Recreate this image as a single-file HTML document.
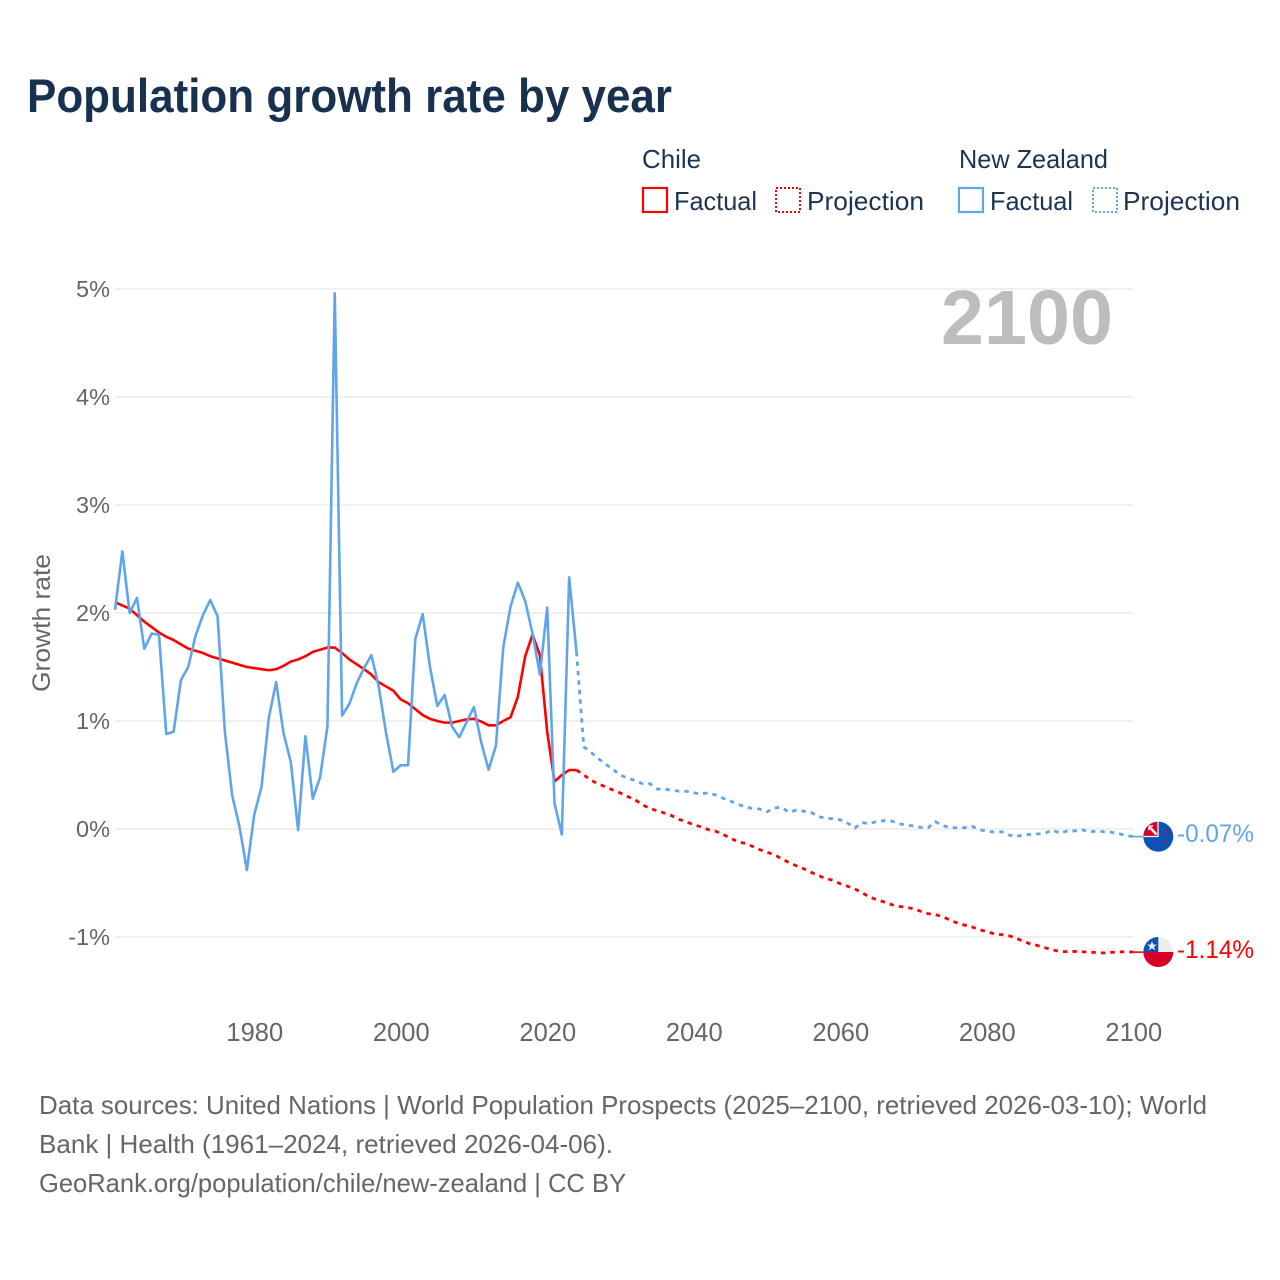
<!DOCTYPE html>
<html lang="en">
<head>
<meta charset="utf-8">
<title>Population growth rate by year</title>
<style>
html,body{margin:0;padding:0;background:#fff;}
svg{display:block;font-family:"Liberation Sans",sans-serif;}
</style>
</head>
<body>
<svg id="chart" xmlns="http://www.w3.org/2000/svg" width="1280" height="1280" viewBox="0 0 1280 1280">
  <defs>
    <clipPath id="clip-nz"><circle cx="1158.3" cy="836.6" r="15"/></clipPath>
    <clipPath id="clip-cl"><circle cx="1158.3" cy="952" r="15"/></clipPath>
  </defs>
  <rect x="0" y="0" width="1280" height="1280" fill="#fff"/>

  <text x="27" y="112" font-size="47" font-weight="700" fill="#17314f" textLength="645" lengthAdjust="spacingAndGlyphs">Population growth rate by year</text>

  <g font-size="26" fill="#1c3454">
    <text x="642" y="168" textLength="59" lengthAdjust="spacingAndGlyphs">Chile</text>
    <text x="959" y="168" textLength="149" lengthAdjust="spacingAndGlyphs">New Zealand</text>
    <rect x="643" y="188" width="24" height="24" fill="none" stroke="#ff0000" stroke-width="2.2"/>
    <text x="674" y="210" textLength="83" lengthAdjust="spacingAndGlyphs">Factual</text>
    <rect x="776" y="188" width="24" height="24" fill="none" stroke="#ff0000" stroke-width="2" stroke-dasharray="2 2"/>
    <text x="807" y="210" textLength="117" lengthAdjust="spacingAndGlyphs">Projection</text>
    <rect x="959" y="188" width="24" height="24" fill="none" stroke="#60a5ec" stroke-width="2.2"/>
    <text x="990" y="210" textLength="83" lengthAdjust="spacingAndGlyphs">Factual</text>
    <rect x="1093" y="188" width="24" height="24" fill="none" stroke="#60a5ec" stroke-width="2" stroke-dasharray="2 2"/>
    <text x="1123" y="210" textLength="117" lengthAdjust="spacingAndGlyphs">Projection</text>
  </g>

  <g id="grid"></g>
  <g id="y-ticks"></g>
  <g id="x-ticks"></g>

  <text transform="translate(50,692) rotate(-90)" font-size="25" fill="#666" textLength="138" lengthAdjust="spacingAndGlyphs">Growth rate</text>

  <text x="1113" y="344" font-size="77" font-weight="700" fill="#bdbdbd" text-anchor="end" textLength="172" lengthAdjust="spacingAndGlyphs">2100</text>

  <g id="series"></g>

  <g clip-path="url(#clip-nz)">
    <rect x="1143" y="821" width="31" height="31" fill="#0a52b5"/>
    <rect x="1144" y="822.5" width="13.5" height="13.5" fill="#d80027"/>
    <path d="M1150 827.5 L1156.5 834.5" stroke="#f0f0f0" stroke-width="2.6" fill="none"/>
    <path d="M1149 826 H1153 M1149 826 V830" stroke="#f0f0f0" stroke-width="1.6" fill="none"/>
    <path d="M1158 821 V836.5 H1143" stroke="#f0f0f0" stroke-width="1.3" fill="none"/>
    <circle cx="1166" cy="830" r="1" fill="#d80027"/>
    <circle cx="1162" cy="834.5" r="1" fill="#d80027"/>
    <circle cx="1169.5" cy="834" r="1" fill="#d80027"/>
    <circle cx="1166" cy="842" r="1.3" fill="#d80027"/>
  </g>
  <g clip-path="url(#clip-cl)">
    <rect x="1143" y="937" width="31" height="15.5" fill="#eeeeee"/>
    <rect x="1143" y="937" width="15.3" height="15.5" fill="#0a52b5"/>
    <rect x="1143" y="952" width="31" height="16" fill="#d80027"/>
    <path d="M1152 941 L1153.3 944.6 L1157 944.6 L1154 946.8 L1155.2 950.3 L1152 948.2 L1148.8 950.3 L1150 946.8 L1147 944.6 L1150.7 944.6 Z" fill="#f0f0f0"/>
  </g>

  <text x="1177" y="842" font-size="25" fill="#60a5ec" textLength="77" lengthAdjust="spacingAndGlyphs">-0.07%</text>
  <text x="1177" y="958" font-size="25" fill="#ff0000" textLength="77" lengthAdjust="spacingAndGlyphs">-1.14%</text>

  <g font-size="26" fill="#666">
    <text x="39" y="1114" textLength="1168" lengthAdjust="spacingAndGlyphs">Data sources: United Nations | World Population Prospects (2025–2100, retrieved 2026-03-10); World</text>
    <text x="39" y="1153" textLength="574" lengthAdjust="spacingAndGlyphs">Bank | Health (1961–2024, retrieved 2026-04-06).</text>
    <text x="39" y="1192" textLength="587" lengthAdjust="spacingAndGlyphs">GeoRank.org/population/chile/new-zealand | CC BY</text>
  </g>
</svg>
<script>
const yTickValues = [-1, 0, 1, 2, 3, 4, 5];
const yTickLabels = ["-1%", "0%", "1%", "2%", "3%", "4%", "5%"];
const xTickYears = [1980, 2000, 2020, 2040, 2060, 2080, 2100];
const factualStartYear = 1961;
const projectionStartYear = 2024;

const chileFactual = [2.10,2.07,2.04,1.98,1.92,1.87,1.82,1.78,1.75,1.71,1.67,1.65,1.63,1.60,1.58,1.56,1.54,1.52,1.50,1.49,1.48,1.47,1.48,1.51,1.55,1.57,1.60,1.64,1.66,1.68,1.68,1.63,1.57,1.525,1.48,1.43,1.36,1.32,1.28,1.20,1.165,1.11,1.055,1.02,1.00,0.985,0.985,1.00,1.015,1.02,0.995,0.96,0.96,1.00,1.035,1.225,1.60,1.80,1.61,0.90,0.44,0.50,0.546,0.546];
const chileProjection = [0.546,0.50,0.45,0.417,0.39,0.36,0.333,0.30,0.27,0.225,0.19,0.17,0.148,0.123,0.09,0.065,0.04,0.02,-0.006,-0.02,-0.05,-0.083,-0.117,-0.133,-0.16,-0.19,-0.216,-0.238,-0.275,-0.31,-0.34,-0.367,-0.40,-0.43,-0.457,-0.475,-0.506,-0.53,-0.556,-0.59,-0.63,-0.654,-0.676,-0.70,-0.716,-0.725,-0.738,-0.762,-0.784,-0.793,-0.81,-0.846,-0.87,-0.89,-0.907,-0.932,-0.95,-0.97,-0.978,-0.988,-1.01,-1.04,-1.065,-1.08,-1.10,-1.12,-1.133,-1.136,-1.133,-1.136,-1.142,-1.142,-1.148,-1.142,-1.139,-1.136,-1.14];
const nzFactual = [2.03,2.57,2.00,2.14,1.67,1.81,1.80,0.88,0.90,1.38,1.50,1.79,1.98,2.12,1.97,0.90,0.31,0.02,-0.38,0.13,0.39,1.03,1.36,0.89,0.62,-0.01,0.86,0.28,0.48,0.95,4.96,1.05,1.16,1.35,1.49,1.61,1.32,0.89,0.53,0.59,0.59,1.76,1.99,1.50,1.14,1.24,0.95,0.85,0.99,1.13,0.80,0.55,0.77,1.68,2.06,2.28,2.11,1.81,1.43,2.05,0.24,-0.05,2.33,1.64];
const nzProjection = [1.64,0.76,0.71,0.65,0.60,0.55,0.50,0.47,0.45,0.42,0.42,0.37,0.37,0.36,0.35,0.35,0.335,0.325,0.335,0.315,0.285,0.26,0.23,0.205,0.19,0.185,0.16,0.195,0.20,0.155,0.175,0.165,0.155,0.115,0.10,0.095,0.085,0.055,0.01,0.06,0.05,0.07,0.077,0.074,0.05,0.037,0.028,0.015,0.012,0.068,0.03,0.015,0.01,0.012,0.025,-0.006,-0.02,-0.028,-0.025,-0.055,-0.07,-0.055,-0.05,-0.046,-0.037,-0.01,-0.04,-0.018,-0.018,-0.006,-0.028,-0.018,-0.025,-0.03,-0.043,-0.06,-0.07];

const SVG_NS = "http://www.w3.org/2000/svg";
const plot = { left: 115, right: 1133.2, yZero: 829, pxPerUnit: 108, x0: 1961, x1: 2100 };
const xScale = function (year) { return plot.left + (year - plot.x0) * (plot.right - plot.left) / (plot.x1 - plot.x0); };
const yScale = function (v) { return plot.yZero - v * plot.pxPerUnit; };

const gridGroup = document.getElementById("grid");
const yTickGroup = document.getElementById("y-ticks");
const xTickGroup = document.getElementById("x-ticks");
const seriesGroup = document.getElementById("series");

yTickValues.forEach(function (v, i) {
  const line = document.createElementNS(SVG_NS, "line");
  
  
  line.setAttribute("x1", plot.left);
  line.setAttribute("x2", plot.right);
  line.setAttribute("y1", yScale(v));
  line.setAttribute("y2", yScale(v));
  line.setAttribute("stroke", "#e6e6e6");
  line.setAttribute("stroke-width", "1.2");
  gridGroup.appendChild(line);

  const label = document.createElementNS(SVG_NS, "text");
  
  
  label.setAttribute("x", plot.left - 5);
  label.setAttribute("y", yScale(v) + 8);
  label.setAttribute("text-anchor", "end");
  label.setAttribute("font-size", "23.5");
  label.setAttribute("fill", "#666");
  label.textContent = yTickLabels[i];
  yTickGroup.appendChild(label);
});

xTickYears.forEach(function (yr) {
  const label = document.createElementNS(SVG_NS, "text");
  
  
  label.setAttribute("x", xScale(yr) + 0.6);
  label.setAttribute("y", 1041);
  label.setAttribute("text-anchor", "middle");
  label.setAttribute("font-size", "25.5");
  label.setAttribute("fill", "#666");
  label.textContent = String(yr);
  xTickGroup.appendChild(label);
});

function linePath(values, startYear) {
  return values.map(function (v, i) {
    return (i === 0 ? "M" : "L") + xScale(startYear + i).toFixed(2) + " " + yScale(v).toFixed(2);
  }).join(" ");
}

function addFactual(values, color, name) {
  const p = document.createElementNS(SVG_NS, "path");
  
  
  p.setAttribute("d", linePath(values, factualStartYear));
  p.setAttribute("fill", "none");
  p.setAttribute("stroke", color);
  p.setAttribute("stroke-width", "2.6");
  p.setAttribute("stroke-linejoin", "round");
  seriesGroup.appendChild(p);
}

function addProjection(values, color, name) {
  const p = document.createElementNS(SVG_NS, "path");
  
  
  p.setAttribute("d", linePath(values, projectionStartYear));
  p.setAttribute("fill", "none");
  p.setAttribute("stroke", color);
  p.setAttribute("stroke-width", "2.8");
  p.setAttribute("stroke-dasharray", "4.5 5");
  seriesGroup.appendChild(p);
}

function addConnector(lastValue, color, name) {
  const l = document.createElementNS(SVG_NS, "line");
  
  
  l.setAttribute("x1", plot.right - 2);
  l.setAttribute("x2", plot.right + 10);
  l.setAttribute("y1", yScale(lastValue));
  l.setAttribute("y2", yScale(lastValue));
  l.setAttribute("stroke", color);
  l.setAttribute("stroke-width", "1.6");
  seriesGroup.appendChild(l);
}

addFactual(chileFactual, "#ff0000", "chile-factual-line");
addProjection(chileProjection, "#ff0000", "chile-projection-line");
addFactual(nzFactual, "#60a5ec", "new-zealand-factual-line");
addProjection(nzProjection, "#60a5ec", "new-zealand-projection-line");
addConnector(chileProjection[chileProjection.length - 1], "#ff0000", "chile-end-connector");
addConnector(nzProjection[nzProjection.length - 1], "#60a5ec", "new-zealand-end-connector");
</script>
</body>
</html>
